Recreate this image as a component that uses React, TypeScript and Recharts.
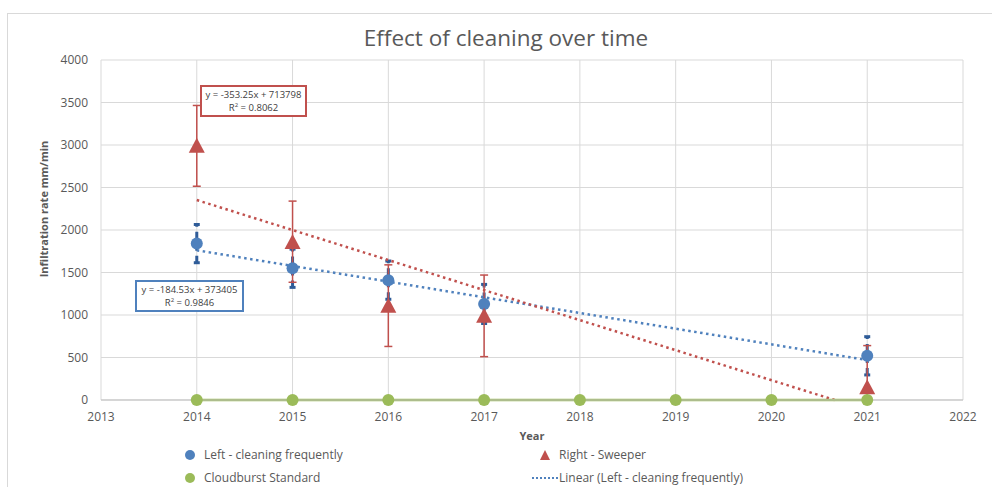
import { ComposedChart, Scatter, Line, XAxis, YAxis, CartesianGrid, ErrorBar } from 'recharts'

const FONT = '"Open Sans", sans-serif'
const BLUE = '#4F81BD'
const BLUE_ERR = '#2F5C98'
const RED = '#C0504D'
const GREEN = '#9BBB59'
const TEXT = '#595959'

// measured years
const years = [2014, 2015, 2016, 2017, 2021]
const leftValues = [1840, 1550, 1410, 1130, 520]
const leftErrors = [225, 225, 225, 230, 225]
const rightValues = [2990, 1860, 1110, 990, 150]
const rightErrLow = [475, 475, 480, 480, 150]
const rightErrHigh = [475, 480, 480, 480, 490]

const standardYears = [2014, 2015, 2016, 2017, 2018, 2019, 2020, 2021]
const standardValues = [0, 0, 0, 0, 0, 0, 0, 0]

const xTicks = [2013, 2014, 2015, 2016, 2017, 2018, 2019, 2020, 2021, 2022]
const yTicks = [0, 500, 1000, 1500, 2000, 2500, 3000, 3500, 4000]

// trendline equations as shown on the chart
const LEFT_SLOPE = -184.53
const LEFT_INTERCEPT = 373405
const RIGHT_SLOPE = -353.25
const RIGHT_INTERCEPT = 713798

const leftData = years.map((x, i) => ({ x, y: leftValues[i], err: leftErrors[i] }))
const rightData = years.map((x, i) => ({ x, y: rightValues[i], err: [rightErrLow[i], rightErrHigh[i]] }))
const standardData = standardYears.map((x, i) => ({ x, y: standardValues[i] }))

const leftTrend = [2014, 2021].map((x) => ({ x, y: LEFT_SLOPE * x + LEFT_INTERCEPT }))
// the red trend is cut where it meets the x axis
const rightZeroX = -RIGHT_INTERCEPT / RIGHT_SLOPE
const rightTrend = [2014, rightZeroX].map((x) => ({ x, y: Math.max(0, RIGHT_SLOPE * x + RIGHT_INTERCEPT) }))

const Dot = ({ cx, cy, fill }: any) => <circle cx={cx} cy={cy} r={6} fill={fill} />

const Triangle = ({ cx, cy }: any) => (
  <polygon points={`${cx},${cy - 8} ${cx + 8},${cy + 7} ${cx - 8},${cy + 7}`} fill={RED} />
)

const tickStyle = { fill: TEXT, fontSize: 12, fontFamily: FONT }

const LegendItem = ({ icon, label, left, top }: any) => (
  <div style={{ position: 'absolute', left, top, display: 'flex', alignItems: 'center', fontSize: 12, color: TEXT, whiteSpace: 'nowrap' }}>
    <div style={{ width: 28, display: 'flex', justifyContent: 'center' }}>{icon}</div>
    <span>{label}</span>
  </div>
)

const EquationBox = ({ left, top, width, color, eq, r2 }: any) => (
  <div
    style={{
      position: 'absolute', left, top, width, height: 27, border: `2px solid ${color}`, background: '#fff',
      fontSize: 9.5, lineHeight: '13px', color: '#404040', textAlign: 'center', paddingTop: 1,
    }}
  >
    <div>{eq}</div>
    <div>R<sup style={{ fontSize: 6, lineHeight: 0 }}>2</sup> = {r2}</div>
  </div>
)

export default function App() {
  return (
    <div style={{ position: 'absolute', left: 0, top: 0, width: 992, height: 487, overflow: 'hidden', background: '#fff', fontFamily: FONT }}>
      <div style={{ position: 'absolute', left: 7, top: 13, width: 1000, height: 500, border: '1px solid #d9d9d9' }} />
      <div style={{ position: 'absolute', left: 0, width: 1012, top: 22, textAlign: 'center', fontSize: 22.5, color: TEXT }}>
        Effect of cleaning over time
      </div>
      <div style={{ position: 'absolute', left: 0, top: 0 }}>
        <ComposedChart width={992} height={487} margin={{ top: 60, right: 29, bottom: 57, left: 41 }}>
          <CartesianGrid stroke="#d9d9d9" strokeWidth={1} />
          <XAxis
            dataKey="x"
            type="number"
            domain={[2013, 2022]}
            ticks={xTicks}
            tickLine={false}
            axisLine={{ stroke: '#bfbfbf' }}
            tick={tickStyle}
            tickMargin={6}
            height={30}
            label={{ value: 'Year', position: 'bottom', offset: 2, fill: TEXT, fontSize: 11, fontWeight: 700, fontFamily: FONT }}
          />
          <YAxis
            type="number"
            domain={[0, 4000]}
            ticks={yTicks}
            tickLine={false}
            axisLine={false}
            tick={tickStyle}
            tickMargin={7}
            width={60}
          />
          <Scatter data={leftData} dataKey="y" isAnimationActive={false} shape={<Dot fill={BLUE} />}>
            <ErrorBar dataKey="err" direction="y" width={3} stroke={BLUE_ERR} strokeWidth={3} strokeDasharray="7 5" />
          </Scatter>
          <Scatter data={rightData} dataKey="y" isAnimationActive={false} shape={<Triangle />}>
            <ErrorBar dataKey="err" direction="y" width={4} stroke={RED} strokeWidth={1.5} />
          </Scatter>
          <Line data={leftTrend} dataKey="y" stroke={BLUE} strokeWidth={2.5} strokeDasharray="2.5 3.5" dot={false} isAnimationActive={false} />
          <Line data={rightTrend} dataKey="y" stroke={RED} strokeWidth={2.5} strokeDasharray="2.5 3.5" dot={false} isAnimationActive={false} />
          <Line
            data={standardData}
            dataKey="y"
            stroke={GREEN}
            strokeWidth={2.5}
            dot={{ r: 6, fill: GREEN, stroke: 'none' }}
            isAnimationActive={false}
          />
        </ComposedChart>
      </div>
      <div
        style={{
          position: 'absolute', left: 43, top: 209, transform: 'translate(-50%, -50%) rotate(-90deg)',
          fontSize: 11, fontWeight: 700, color: TEXT, whiteSpace: 'nowrap',
        }}
      >
        Infiltration rate mm/min
      </div>
      <EquationBox left={200} top={85} width={103} color={RED} eq="y = -353.25x + 713798" r2="0.8062" />
      <EquationBox left={135} top={280} width={105} color={BLUE} eq="y = -184.53x + 373405" r2="0.9846" />

      <LegendItem left={176} top={446} label="Left - cleaning frequently" icon={<svg width={12} height={12}><circle cx={6} cy={6} r={5} fill={BLUE} /></svg>} />
      <LegendItem left={531} top={446} label="Right - Sweeper" icon={<svg width={12} height={12}><polygon points="6,1 11,11 1,11" fill={RED} /></svg>} />
      <LegendItem left={176} top={469} label="Cloudburst Standard" icon={<svg width={12} height={12}><circle cx={6} cy={6} r={5} fill={GREEN} /></svg>} />
      <LegendItem left={531} top={469} label="Linear (Left - cleaning frequently)" icon={<svg width={28} height={4}><line x1={1} y1={2} x2={28} y2={2} stroke={BLUE} strokeWidth={2} strokeDasharray="2 2" /></svg>} />
    </div>
  )
}
